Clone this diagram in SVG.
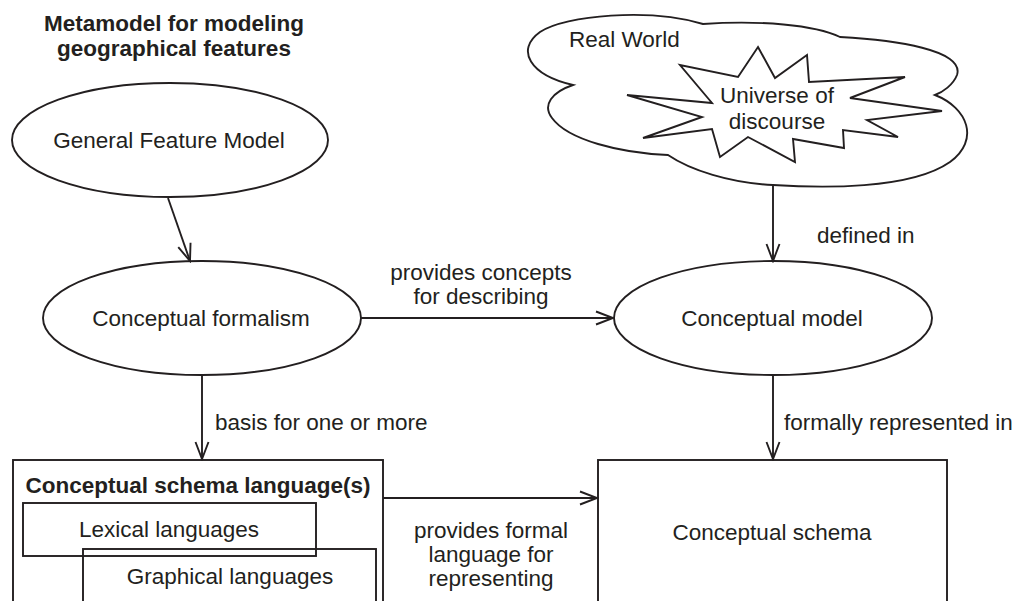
<svg xmlns="http://www.w3.org/2000/svg" width="1018" height="601" viewBox="0 0 1018 601">
  <style>
    .shape { fill: #ffffff; stroke: #231f20; stroke-width: 1.9; }
    .box { fill: none; stroke: #231f20; stroke-width: 1.9; }
    .edge { fill: none; stroke: #231f20; stroke-width: 1.9; marker-end: url(#open-arrow); }
    text { font-family: "Liberation Sans", Arial, Helvetica, sans-serif; font-size: 22.5px; fill: #231f20; }
    .c { text-anchor: middle; }
    .b { font-weight: bold; }
  </style>
  <defs>
    <marker id="open-arrow" markerUnits="userSpaceOnUse" markerWidth="20" markerHeight="16" refX="18" refY="8" orient="auto">
      <path d="M1,1.5 L18,8 L1,14.5" fill="none" stroke="#231f20" stroke-width="1.9"/>
    </marker>
  </defs>

  <rect width="1018" height="601" fill="#ffffff"/>

  <g id="title">
    <text class="c b" x="174" y="31">Metamodel for modeling</text>
    <text class="c b" x="174" y="56">geographical features</text>
  </g>

  <g id="general-feature-model">
    <ellipse class="shape" cx="170" cy="140" rx="158" ry="57"/>
    <text class="c" x="169" y="148">General Feature Model</text>
  </g>

  <g id="conceptual-formalism">
    <ellipse class="shape" cx="202" cy="318" rx="159" ry="57"/>
    <text class="c" x="201" y="326">Conceptual formalism</text>
  </g>

  <g id="real-world">
    <path class="shape" d="M573,85 C530,75 515,50 540,32 C565,15 650,8 703,24 C760,20 815,25 840,37 C895,40 965,50 957,75 C953,85 943,92 935,95 C968,108 980,140 950,162 C910,190 820,188 773,185 C730,183 690,170 668,155 C620,153 568,140 552,118 C542,105 552,92 573,85 Z"/>
    <text x="569" y="47">Real World</text>
    <g id="universe-of-discourse">
      <polygon class="shape" points="758,47 775,78 807,55 809,82 905,77 850,98 942,111 867,120 898,137 843,130 844,148 793,139 795,162 748,137 720,157 712,129 643,138 702,117 627,95 712,103 680,65 738,77"/>
      <text class="c" x="777" y="103">Universe of</text>
      <text class="c" x="777" y="129">discourse</text>
    </g>
  </g>

  <g id="conceptual-model">
    <ellipse class="shape" cx="773" cy="318" rx="159" ry="57"/>
    <text class="c" x="772" y="326">Conceptual model</text>
  </g>

  <g id="conceptual-schema-languages">
    <rect class="box" x="13" y="460" width="370" height="160"/>
    <text class="c b" x="198" y="493">Conceptual schema language(s)</text>
    <g id="lexical-languages">
      <rect class="box" x="23" y="503" width="293" height="53"/>
      <text class="c" x="169" y="537">Lexical languages</text>
    </g>
    <g id="graphical-languages">
      <rect class="box" x="83" y="549" width="293" height="70"/>
      <text class="c" x="230" y="584">Graphical languages</text>
    </g>
  </g>

  <g id="conceptual-schema">
    <rect class="box" x="598" y="460" width="349" height="160"/>
    <text class="c" x="772" y="540">Conceptual schema</text>
  </g>

  <g id="connectors">
    <line class="edge" x1="168" y1="198" x2="190" y2="261"/>
    <line class="edge" x1="361" y1="318" x2="613" y2="318"/>
    <text class="c" x="481" y="280">provides concepts</text>
    <text class="c" x="481" y="304">for describing</text>
    <line class="edge" x1="773" y1="185" x2="773" y2="261"/>
    <text x="817" y="243">defined in</text>
    <line class="edge" x1="202" y1="375" x2="202" y2="459"/>
    <text x="215" y="430">basis for one or more</text>
    <line class="edge" x1="773" y1="375" x2="773" y2="459"/>
    <text x="784" y="430">formally represented in</text>
    <line class="edge" x1="383" y1="498" x2="597" y2="498"/>
    <text class="c" x="491" y="538">provides formal</text>
    <text class="c" x="491" y="562">language for</text>
    <text class="c" x="491" y="586">representing</text>
  </g>
</svg>
